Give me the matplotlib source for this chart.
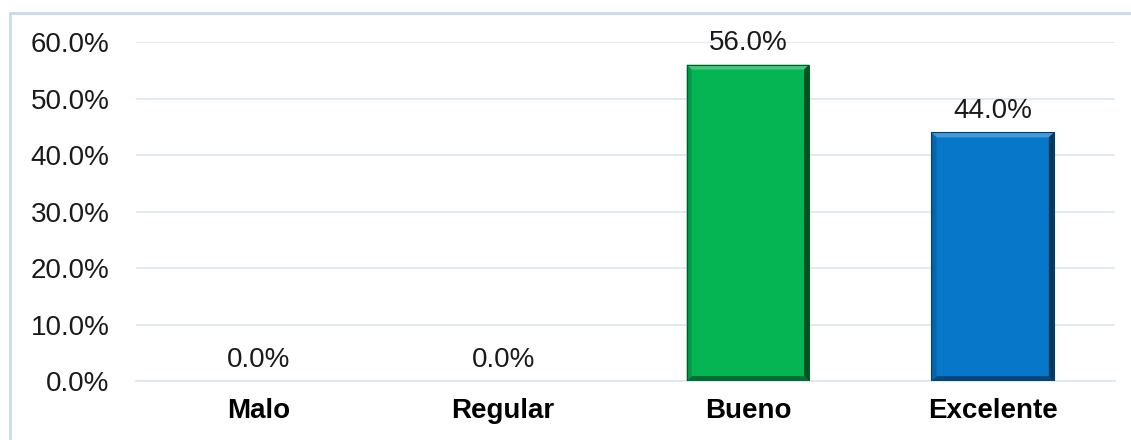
import numpy as np
import matplotlib.pyplot as plt
from matplotlib.patches import Rectangle, Polygon
from matplotlib.colors import to_rgb

plt.rcParams.update({'font.size': 20, 'font.family': ['Liberation Sans', 'DejaVu Sans']})

categories = ['Malo', 'Regular', 'Bueno', 'Excelente']
values = [0.0, 0.0, 56.0, 44.0]
colors = ['#00B050', '#0070C0', '#05B553', '#0677C9']
yticks = [0, 10, 20, 30, 40, 50, 60]


def shade(c, f):
    r = np.array(to_rgb(c))
    if f > 1:
        return tuple(r + (1 - r) * (f - 1))
    return tuple(r * f)


fig = plt.figure(figsize=(11.31, 4.4), dpi=100)
fig.patches.append(Rectangle((10 / 1131, -0.05), 1.0, 1.05 - 13 / 440, transform=fig.transFigure,
                             fill=False, edgecolor='#C9D9EE', linewidth=2))
ax = fig.add_axes([0.1202, 0.134, 0.8657, 0.7705])

x = np.arange(len(categories))
bars = ax.bar(x, values, width=0.5, color=colors, linewidth=0, zorder=3)

ax.set_xlim(-0.5, 3.5)
ax.set_ylim(0, 60)

# bevel look on the bars
bw = 5 / 979 * 4
bh = 5 / 339 * 60
for b, c in zip(bars, colors):
    h = b.get_height()
    if h <= 0:
        continue
    x0, x1 = b.get_x(), b.get_x() + b.get_width()
    y0, y1 = 0, h
    sides = [
        ([(x0, y1), (x1, y1), (x1 - bw, y1 - bh), (x0 + bw, y1 - bh)], shade(c, 1.25)),
        ([(x1, y1), (x1, y0), (x1 - bw, y0 + bh), (x1 - bw, y1 - bh)], shade(c, 0.45)),
        ([(x0, y0), (x1, y0), (x1 - bw, y0 + bh), (x0 + bw, y0 + bh)], shade(c, 0.6)),
        ([(x0, y0), (x0, y1), (x0 + bw, y1 - bh), (x0 + bw, y0 + bh)], shade(c, 0.85)),
    ]
    for pts, col in sides:
        ax.add_patch(Polygon(pts, closed=True, facecolor=col, edgecolor='none', zorder=4))
    ax.add_patch(Rectangle((x0, y0), x1 - x0, y1 - y0, fill=False,
                           edgecolor=shade(c, 0.5), linewidth=0.8, zorder=5))

for xi, v in zip(x, values):
    ax.annotate(f'{v:.1f}%', (xi, v), xytext=(0, 6), textcoords='offset points',
                ha='center', va='bottom', fontsize=20, color='#1a1a1a')

ax.set_yticks(yticks)
ax.set_yticklabels([f'{t:.1f}%' for t in yticks])
ax.set_xticks(x)
ax.set_xticklabels(categories, fontweight='bold')
ax.tick_params(axis='y', length=0, pad=19, labelsize=20, colors='#1a1a1a')
ax.tick_params(axis='x', length=0, pad=12, labelsize=20, colors='#000000')
ax.grid(axis='y', color='#DCE6F2', linewidth=1.2, zorder=0)
for s in ['top', 'right', 'left']:
    ax.spines[s].set_visible(False)
ax.spines['bottom'].set_color('#DCE6F2')
ax.spines['bottom'].set_linewidth(1.2)

plt.savefig('out.png', dpi=100)
